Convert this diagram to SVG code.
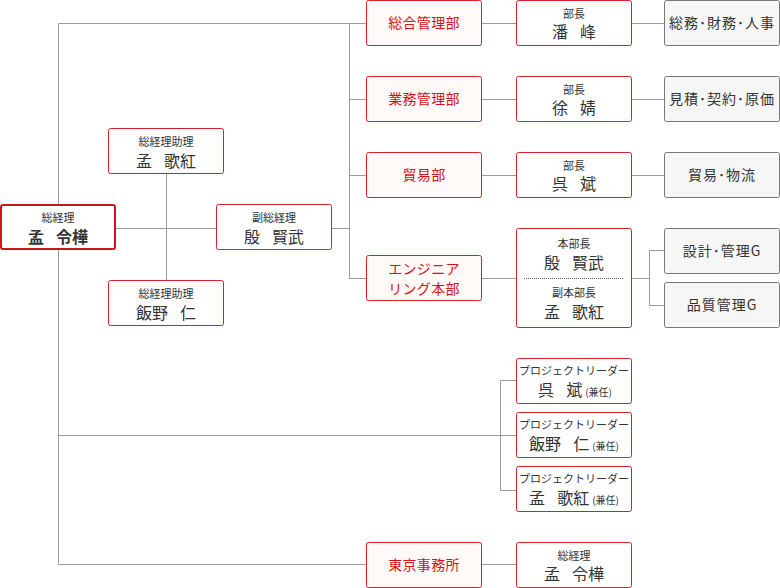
<svg xmlns="http://www.w3.org/2000/svg" width="780" height="588" viewBox="0 0 780 588">
<style>
text{font-family:"Noto Sans CJK JP","Noto Sans",sans-serif;fill:#333;text-anchor:middle}
.s{font-size:11px}
.n{font-size:16px;word-spacing:8.5px}
.d{font-size:14px;fill:#d3131b;letter-spacing:0.3px}
.g{font-size:14px;letter-spacing:1px}
.k{font-size:10px;word-spacing:0}
.bx{fill:#fff;stroke:#d3202a;stroke-width:1}
.dp{fill:#fff9f7;stroke:#d3202a;stroke-width:1}
.gy{fill:#f6f6f6;stroke:#777;stroke-width:1}
#connectors line,#connectors polyline{stroke:#9a9a9a;stroke-width:1;fill:none}
</style>
<rect width="780" height="588" fill="#fff"/>
<g id="connectors">
<polyline points="366,23.5 58.5,23.5 58.5,564.5 366,564.5"/>
<line x1="115" y1="228.5" x2="216" y2="228.5"/>
<line x1="166.5" y1="173" x2="166.5" y2="280"/>
<line x1="332" y1="228.5" x2="349.5" y2="228.5"/>
<line x1="349.5" y1="23.5" x2="349.5" y2="278.5"/>
<line x1="349.5" y1="99.5" x2="366" y2="99.5"/>
<line x1="349.5" y1="175.5" x2="366" y2="175.5"/>
<line x1="349.5" y1="278.5" x2="366" y2="278.5"/>
<line x1="482" y1="23.5" x2="516" y2="23.5"/>
<line x1="482" y1="99.5" x2="516" y2="99.5"/>
<line x1="482" y1="175.5" x2="516" y2="175.5"/>
<line x1="482" y1="278.5" x2="516" y2="278.5"/>
<line x1="632" y1="23.5" x2="664" y2="23.5"/>
<line x1="632" y1="99.5" x2="664" y2="99.5"/>
<line x1="632" y1="175.5" x2="664" y2="175.5"/>
<line x1="632" y1="278.5" x2="649.5" y2="278.5"/>
<polyline points="664,250.5 649.5,250.5 649.5,305.5 664,305.5"/>
<line x1="58.5" y1="435.5" x2="500.5" y2="435.5"/>
<polyline points="516,380.5 500.5,380.5 500.5,490.5 516,490.5"/>
<line x1="500.5" y1="435.5" x2="516" y2="435.5"/>
<line x1="482" y1="564.5" x2="516" y2="564.5"/>
</g>
<g id="president">
<rect x="1" y="205" width="114" height="44" rx="2" fill="#fff" stroke="#c8161e" stroke-width="2"/>
<text class="s" x="58" y="221.5">総経理</text>
<text class="n" x="58" y="242.5" font-weight="bold">孟 令樺</text>
</g>
<g id="assistant1">
<rect class="bx" x="108.5" y="128.5" width="115" height="45" rx="2"/>
<text class="s" x="166" y="146">総経理助理</text>
<text class="n" x="166" y="167">孟 歌紅</text>
</g>
<g id="vicepresident">
<rect class="bx" x="216.5" y="204.5" width="115" height="45" rx="2"/>
<text class="s" x="274" y="222">副総経理</text>
<text class="n" x="274" y="243">殷 賢武</text>
</g>
<g id="assistant2">
<rect class="bx" x="108.5" y="280.5" width="115" height="45" rx="2"/>
<text class="s" x="166" y="298">総経理助理</text>
<text class="n" x="166" y="319">飯野 仁</text>
</g>
<g id="dept1">
<rect class="dp" x="366.5" y="0.5" width="115" height="45" rx="2"/>
<text class="d" x="424" y="28">総合管理部</text>
</g>
<g id="dept2">
<rect class="dp" x="366.5" y="76.5" width="115" height="45" rx="2"/>
<text class="d" x="424" y="104">業務管理部</text>
</g>
<g id="dept3">
<rect class="dp" x="366.5" y="152.5" width="115" height="45" rx="2"/>
<text class="d" x="424" y="180">貿易部</text>
</g>
<g id="dept4">
<rect class="dp" x="366.5" y="255.5" width="115" height="45" rx="2"/>
<text class="d" x="424" y="274">エンジニア</text>
<text class="d" x="424" y="294">リング本部</text>
</g>
<g id="dept5">
<rect class="dp" x="366.5" y="542.5" width="115" height="45" rx="2"/>
<text class="d" x="424" y="570">東京事務所</text>
</g>
<g id="head1">
<rect class="bx" x="516.5" y="0.5" width="115" height="45" rx="2"/>
<text class="s" x="574" y="17.5">部長</text>
<text class="n" x="574" y="38">潘 峰</text>
</g>
<g id="head2">
<rect class="bx" x="516.5" y="76.5" width="115" height="45" rx="2"/>
<text class="s" x="574" y="93.5">部長</text>
<text class="n" x="574" y="114">徐 婧</text>
</g>
<g id="head3">
<rect class="bx" x="516.5" y="152.5" width="115" height="45" rx="2"/>
<text class="s" x="574" y="169.5">部長</text>
<text class="n" x="574" y="190">呉 斌</text>
</g>
<g id="head4">
<rect class="bx" x="516.5" y="228.5" width="115" height="99" rx="2"/>
<text class="s" x="574" y="247.5">本部長</text>
<text class="n" x="574" y="269">殷 賢武</text>
<line x1="524" y1="278.5" x2="623" y2="278.5" stroke="#555" stroke-width="1" stroke-dasharray="1,1"/>
<text class="s" x="574" y="296.5">副本部長</text>
<text class="n" x="574" y="318">孟 歌紅</text>
</g>
<g id="pl1">
<rect class="bx" x="516.5" y="358.5" width="115" height="45" rx="2"/>
<text class="s" x="574" y="374.5">プロジェクトリーダー</text>
<text class="n" x="575" y="396">呉 斌<tspan class="k" dx="3">(兼任)</tspan></text>
</g>
<g id="pl2">
<rect class="bx" x="516.5" y="412.5" width="115" height="45" rx="2"/>
<text class="s" x="574" y="428.5">プロジェクトリーダー</text>
<text class="n" x="574" y="450">飯野 仁<tspan class="k" dx="3">(兼任)</tspan></text>
</g>
<g id="pl3">
<rect class="bx" x="516.5" y="466.5" width="115" height="45" rx="2"/>
<text class="s" x="574" y="482.5">プロジェクトリーダー</text>
<text class="n" x="574" y="504">孟 歌紅<tspan class="k" dx="3">(兼任)</tspan></text>
</g>
<g id="tokyohead">
<rect class="bx" x="516.5" y="542.5" width="115" height="45" rx="2"/>
<text class="s" x="574" y="559.5">総経理</text>
<text class="n" x="574" y="580">孟 令樺</text>
</g>
<g id="func1">
<rect class="gy" x="664.5" y="0.5" width="115" height="45" rx="2"/>
<text class="g" x="722" y="28">総務･財務･人事</text>
</g>
<g id="func2">
<rect class="gy" x="664.5" y="76.5" width="115" height="45" rx="2"/>
<text class="g" x="722" y="104">見積･契約･原価</text>
</g>
<g id="func3">
<rect class="gy" x="664.5" y="152.5" width="115" height="45" rx="2"/>
<text class="g" x="722" y="180">貿易･物流</text>
</g>
<g id="func4">
<rect class="gy" x="664.5" y="228.5" width="115" height="45" rx="2"/>
<text class="g" x="722" y="256">設計･管理G</text>
</g>
<g id="func5">
<rect class="gy" x="664.5" y="282.5" width="115" height="45" rx="2"/>
<text class="g" x="722" y="310">品質管理G</text>
</g>
</svg>
